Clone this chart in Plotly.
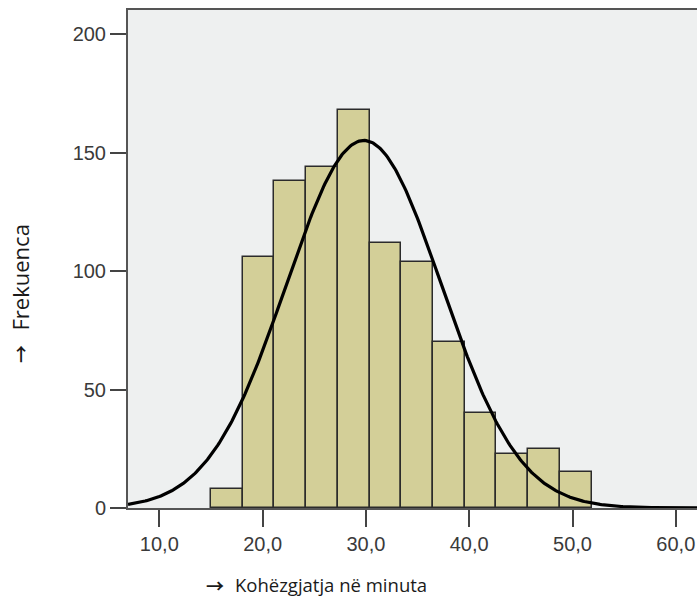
import numpy as np
import plotly.graph_objects as go

# ---- data ----
bin_lower = [15.00, 18.07, 21.14, 24.21, 27.28, 30.35, 33.42, 36.49, 39.56, 42.63, 45.70, 48.77]
bin_width = 3.07
counts = [8, 106, 138, 144, 168, 112, 104, 70, 40, 23, 25, 15]
x_tick_vals = [10, 20, 30, 40, 50, 60]
x_tick_text = ["10,0", "20,0", "30,0", "40,0", "50,0", "60,0"]
y_tick_vals = [0, 50, 100, 150, 200]
y_tick_text = ["0", "50", "100", "150", "200"]
fit_mean = 29.8
fit_sd = 7.52

arrow = "\u2192"
x_title = "Kohëzgjatja në minuta"
y_title = "Frekuenca"

x_range = [6.97, 62.05]
y_range = [0, 210.3]

centers = [b + bin_width / 2 for b in bin_lower]
n_total = sum(counts)

xs = np.linspace(x_range[0], x_range[1], 400)
ys = n_total * bin_width / (fit_sd * np.sqrt(2 * np.pi)) * np.exp(-0.5 * ((xs - fit_mean) / fit_sd) ** 2)

fig = go.Figure()
fig.add_trace(go.Bar(
    x=centers, y=counts, width=bin_width,
    marker=dict(color="#d3cf98", line=dict(color="#2b2b2b", width=1.5)),
    hoverinfo="skip",
))
fig.add_trace(go.Scatter(
    x=xs, y=ys, mode="lines",
    line=dict(color="#000000", width=3.2),
    hoverinfo="skip",
))

tick_font = dict(family="Liberation Sans, Arial, sans-serif", size=20, color="#3a3a3a")
x_title_font = dict(family="Open Sans, Noto Sans, sans-serif", size=18.5, color="#1a1a1a")
y_title_font = dict(family="Open Sans, Noto Sans, sans-serif", size=22, color="#1a1a1a")
arrow_font = dict(family="Noto Sans CJK SC", size=18, color="#1a1a1a", weight="bold")

PW, PH, PL, PT = 569.0, 498.0, 128.0, 10.0


def px(xp):
    return (xp - PL) / PW


def py(yp):
    return (PT + PH - yp) / PH


fig.update_layout(
    width=697, height=598,
    margin=dict(l=128, r=0, t=10, b=90),
    paper_bgcolor="#ffffff",
    plot_bgcolor="#eef0f0",
    showlegend=False,
    bargap=0,
    xaxis=dict(
        range=x_range, tickvals=x_tick_vals, ticktext=x_tick_text,
        ticks="outside", ticklen=17, tickwidth=1.5, tickcolor="#444444",
        showline=True, linecolor="#555555", linewidth=2, mirror=True,
        showgrid=False, zeroline=False, tickfont=tick_font,
    ),
    yaxis=dict(
        range=y_range, tickvals=y_tick_vals, ticktext=y_tick_text,
        ticks="outside", ticklen=16, tickwidth=1.5, tickcolor="#444444",
        showline=True, linecolor="#555555", linewidth=2,
        showgrid=False, zeroline=False, tickfont=tick_font,
    ),
    annotations=[
        dict(text=arrow, xref="paper", yref="paper", x=px(215), y=py(585),
             xanchor="center", yanchor="middle", showarrow=False, font=arrow_font),
        dict(text=x_title, xref="paper", yref="paper", x=px(233), y=py(584),
             xanchor="left", yanchor="middle", showarrow=False, font=x_title_font),
        dict(text=arrow, xref="paper", yref="paper", x=px(20), y=py(354),
             xanchor="center", yanchor="middle", showarrow=False, textangle=-90, font=arrow_font),
        dict(text=y_title, xref="paper", yref="paper", x=px(19), y=py(277.5),
             xanchor="center", yanchor="middle", showarrow=False, textangle=-90, font=y_title_font),
    ],
)

fig.write_html("out.html", config={"displayModeBar": False},
               post_script="document.body.style.margin='0';document.body.style.overflow='hidden';")
